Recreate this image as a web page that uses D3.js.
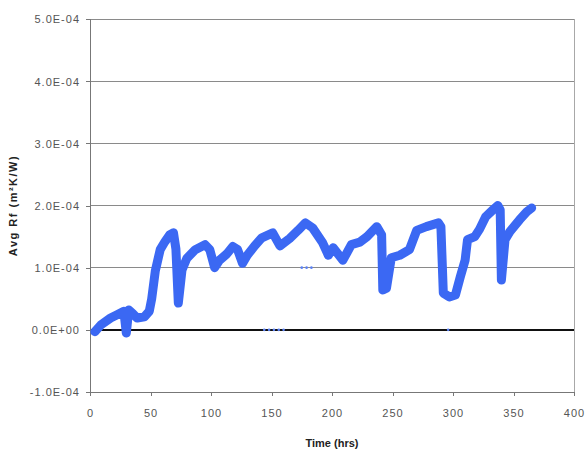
<!DOCTYPE html>
<html>
<head>
<meta charset="utf-8">
<script src="https://cdn.jsdelivr.net/npm/d3@7"></script>
<style>
  body { margin: 0; background: #fff; }
  text { font-family: "Liberation Sans", Arial, sans-serif; }
</style>
</head>
<body>
<script>
// values, Rf in units of 1E-04 m2K/W
var hours = [4,9,17,22,28,30,32,35,39,45,
  49,51,54,58,62,66,69,71,73,76,
  80,87,95,99,103,107,113,118,122,126,
  130,136,142,151,157,165,172,178,184,192,
  197,201,209,216,223,229,237,241,242,245,
  249,256,264,270,278,288,290,292,297,302,
  306,310,312,318,322,327,333,337,339,340,
  343,347,355,361,365];
var avgRf = [-0.03,0.08,0.19,0.24,0.3,-0.05,0.32,0.27,0.19,0.21,
  0.3,0.5,0.95,1.29,1.42,1.53,1.56,1.3,0.43,0.96,
  1.15,1.29,1.37,1.29,1.0,1.12,1.22,1.34,1.29,1.07,
  1.2,1.35,1.48,1.56,1.35,1.47,1.6,1.72,1.64,1.41,
  1.2,1.32,1.12,1.37,1.41,1.5,1.66,1.53,0.64,0.67,
  1.16,1.2,1.29,1.6,1.66,1.72,1.66,0.59,0.53,0.56,
  0.85,1.12,1.45,1.5,1.62,1.82,1.93,2.0,1.93,0.8,
  1.45,1.58,1.77,1.9,1.96];
// a few stray readings lying away from the band
var strayHours = [144,148,152,156,160,296,175,179,183];
var strayRf = [0,0,0,0,0,0,1.0,1.0,1.0];

var yTicks = [-1,0,1,2,3,4,5];
var yTickLabels = ["-1.0E-04","0.0E+00","1.0E-04","2.0E-04","3.0E-04","4.0E-04","5.0E-04"];
var xTicks = [0,50,100,150,200,250,300,350,400];

var width = 587, height = 455;
var margin = {left: 90, right: 13, top: 19, bottom: 63};

var svg = d3.select("body").append("svg")
    .attr("width", width)
    .attr("height", height);

var x = d3.scaleLinear().domain([0, 400]).range([margin.left, width - margin.right]);
var y = d3.scaleLinear().domain([-1, 5]).range([height - margin.bottom, margin.top]);

// gridlines
svg.append("g").selectAll("line")
  .data(yTicks.filter(function(d){ return d > -1; }))
  .enter().append("line")
    .attr("x1", x(0)).attr("x2", x(400))
    .attr("y1", function(d){ return y(d); })
    .attr("y2", function(d){ return y(d); })
    .attr("stroke", function(d){ return d === 0 ? "#111" : "#8a8a8a"; })
    .attr("stroke-width", function(d){ return d === 0 ? 1.6 : 1; })
    .attr("shape-rendering", "crispEdges");

// right border of plot area
svg.append("line")
  .attr("x1", x(400)).attr("x2", x(400))
  .attr("y1", y(5)).attr("y2", y(-1))
  .attr("stroke", "#a8a8a8")
  .attr("shape-rendering", "crispEdges");

var xAxis = svg.append("g")
  .attr("transform", "translate(0," + y(-1) + ")")
  .call(d3.axisBottom(x).tickValues(xTicks).tickSize(4).tickPadding(13).tickFormat(d3.format("d")));

var yAxis = svg.append("g")
  .attr("transform", "translate(" + x(0) + ",0)")
  .call(d3.axisLeft(y).tickValues(yTicks).tickSize(4).tickPadding(6)
    .tickFormat(function(d, i){ return yTickLabels[i]; }));

[xAxis, yAxis].forEach(function(a){
  a.select(".domain").attr("stroke", "#777").attr("shape-rendering", "crispEdges");
  a.selectAll(".tick line").attr("stroke", "#777").attr("shape-rendering", "crispEdges");
  a.selectAll("text")
    .attr("fill", "#555")
    .style("font-size", "11px")
    .style("letter-spacing", "1px");
});
yAxis.selectAll("text").attr("dy", "0.35em");

// the Rf band
var line = d3.line()
  .x(function(d){ return x(hours[d]); })
  .y(function(d){ return y(avgRf[d]); });

svg.append("path")
  .datum(d3.range(hours.length))
  .attr("d", line)
  .attr("fill", "none")
  .attr("stroke", "#3b68f3")
  .attr("stroke-width", 9)
  .attr("stroke-linejoin", "round")
  .attr("stroke-linecap", "round");

svg.append("g").selectAll("circle")
  .data(d3.range(strayHours.length))
  .enter().append("circle")
    .attr("cx", function(d){ return x(strayHours[d]); })
    .attr("cy", function(d){ return y(strayRf[d]); })
    .attr("r", 1.3)
    .attr("fill", "#5b82f5");

// axis titles
svg.append("text")
  .attr("x", x(200))
  .attr("y", 447)
  .attr("text-anchor", "middle")
  .attr("font-weight", "bold")
  .style("font-size", "11px")
  .attr("fill", "#222")
  .text("Time (hrs)");

svg.append("text")
  .attr("transform", "translate(17," + y(2) + ") rotate(-90)")
  .attr("text-anchor", "middle")
  .attr("font-weight", "bold")
  .style("font-size", "11px")
  .style("letter-spacing", "1.5px")
  .attr("fill", "#222")
  .text("Avg Rf (m²K/W)");
</script>
</body>
</html>
